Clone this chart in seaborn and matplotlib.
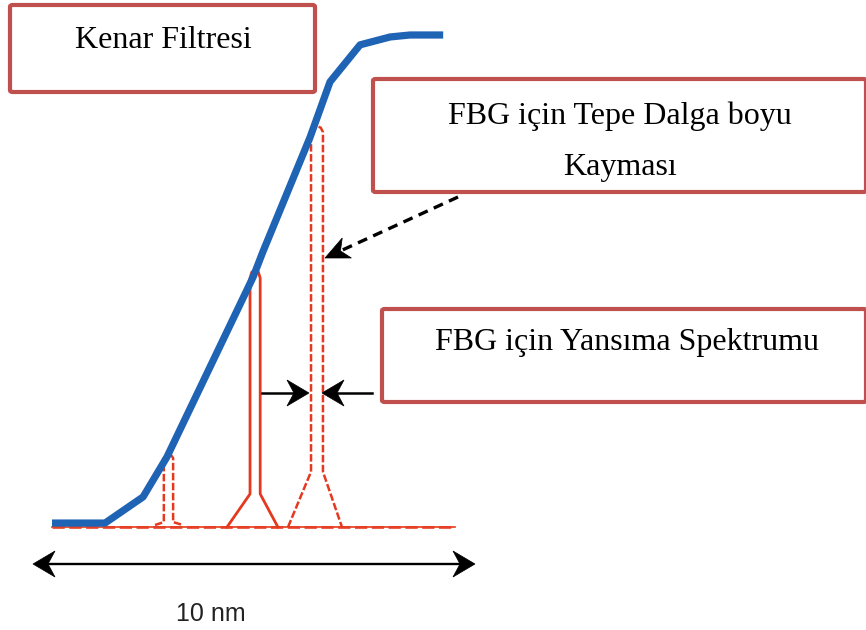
import numpy as np
import pandas as pd
import matplotlib
matplotlib.use("Agg")
import matplotlib.pyplot as plt
import seaborn as sns
from matplotlib.patches import FancyBboxPatch, Polygon
from matplotlib.lines import Line2D

# ---- data (wavelength offset in nm, normalised power) ----
edge_wl = [0.43, 1.63, 2.49, 3.03, 4.98, 5.20, 6.27, 6.72, 7.40, 8.08, 8.53, 9.28]
edge_pw = [0.008, 0.008, 0.061, 0.142, 0.507, 0.558, 0.791, 0.903, 0.978, 0.994, 0.998, 0.998]

peak1_wl = [2.76, 2.96, 2.96, 3.01, 3.07, 3.13, 3.17, 3.17, 3.39]
peak1_pw = [0.004, 0.010, 0.140, 0.145, 0.146, 0.145, 0.140, 0.010, 0.004]

peak2_wl = [4.39, 4.91, 4.91, 4.95, 5.02, 5.10, 5.14, 5.14, 5.54]
peak2_pw = [0.0, 0.067, 0.505, 0.517, 0.521, 0.517, 0.505, 0.067, 0.0]

peak3_wl = [5.77, 6.29, 6.29, 6.35, 6.43, 6.51, 6.56, 6.56, 6.99]
peak3_pw = [0.0, 0.112, 0.801, 0.810, 0.813, 0.810, 0.801, 0.112, 0.0]

base_wl = [0.43, 9.55]
base_pw = [0.0, 0.0]

span_label = "10 nm"
box_labels = ["Kenar Filtresi", "FBG için Tepe Dalga boyu", "Kayması", "FBG için Yansıma Spektrumu"]

# ---- figure ----
W, H = 866, 630
fig = plt.figure(figsize=(W / 100, H / 100), dpi=100)
ax = fig.add_axes([0, 0, 1, 1])
X0, SX, Y0, SY = 33.0, 44.2, 527.0, 493.0
ax.set_xlim((0 - X0) / SX, (W - X0) / SX)
ax.set_ylim((Y0 - H) / SY, Y0 / SY)
ax.axis("off")

red = "#E5391F"
blue = "#1E63B4"

df_base = pd.DataFrame({"wl": base_wl, "pw": base_pw})
sns.lineplot(data=df_base, x="wl", y="pw", ax=ax, color=red, lw=1.2, sort=False, estimator=None)
sns.lineplot(data=df_base, x="wl", y="pw", ax=ax, color=red, lw=2.2, sort=False, estimator=None,
             linestyle=(0, (4, 1.5)), alpha=0.8)

df1 = pd.DataFrame({"wl": peak1_wl, "pw": peak1_pw})
sns.lineplot(data=df1, x="wl", y="pw", ax=ax, color=red, lw=1.8, sort=False, estimator=None,
             linestyle=(0, (3, 1)))
df2 = pd.DataFrame({"wl": peak2_wl, "pw": peak2_pw})
sns.lineplot(data=df2, x="wl", y="pw", ax=ax, color=red, lw=2.0, sort=False, estimator=None)
df3 = pd.DataFrame({"wl": peak3_wl, "pw": peak3_pw})
sns.lineplot(data=df3, x="wl", y="pw", ax=ax, color=red, lw=1.8, sort=False, estimator=None,
             linestyle=(0, (3, 1)))

df_edge = pd.DataFrame({"wl": edge_wl, "pw": edge_pw})
sns.lineplot(data=df_edge, x="wl", y="pw", ax=ax, color=blue, lw=5.2, sort=False, estimator=None,
             solid_capstyle="butt", solid_joinstyle="round")

# ---- annotations in pixel coordinates ----
def P(x, y):
    return (x / W, 1 - y / H)

def box(x0, y0, x1, y1):
    bb = FancyBboxPatch(P(x0, y1), (x1 - x0) / W, (y1 - y0) / H,
                        boxstyle="round,pad=0,rounding_size=0.003",
                        transform=fig.transFigure, facecolor="white",
                        edgecolor="#C0504D", lw=3.0, zorder=5)
    fig.patches.append(bb)

serif = "Liberation Serif"
box(10, 5, 315, 92)
fig.text(*P(163, 40), box_labels[0], ha="center", va="center", family=serif, fontsize=23, zorder=6)
box(373, 79, 866, 192)
fig.text(*P(620, 116), box_labels[1], ha="center", va="center", family=serif, fontsize=23, zorder=6)
fig.text(*P(620, 168), box_labels[2], ha="center", va="center", family=serif, fontsize=23, zorder=6)
box(382, 309, 866, 402)
fig.text(*P(627, 343), box_labels[3], ha="center", va="center", family=serif, fontsize=23, zorder=6)

def head(tip, direction, L, w, notch):
    d = np.asarray(direction, float)
    d = d / np.hypot(*d)
    n = np.array([-d[1], d[0]])
    t = np.asarray(tip, float)
    back = t - d * L
    pts = [t, back + n * w, t - d * (L - notch), back - n * w]
    poly = Polygon([P(*p) for p in pts], closed=True, transform=fig.transFigure,
                   facecolor="black", edgecolor="black", lw=0.5, zorder=8)
    fig.patches.append(poly)
    return t - d * (L - notch)

def seg(p0, p1, lw=1.6, ls="-"):
    a, b = P(*p0), P(*p1)
    fig.lines.append(Line2D([a[0], b[0]], [a[1], b[1]], transform=fig.transFigure,
                            color="black", lw=lw, linestyle=ls, zorder=7))

# bottom double arrow
l_end = head((33, 564), (-1, 0), 22, 13, 7)
r_end = head((475, 564), (1, 0), 22, 13, 7)
seg(l_end, r_end, lw=1.7)
# converging arrows
e1 = head((309, 393), (1, 0), 22, 13, 7)
seg((262, 393), e1, lw=1.8)
e2 = head((322, 393), (-1, 0), 22, 13, 7)
seg((372, 393), e2, lw=1.8)
# dashed pointer arrow
e3 = head((325, 258), (325 - 458, 258 - 197), 24, 11, 7)
seg((458, 197), e3, lw=2.4, ls=(0, (3, 2)))

fig.text(*P(211, 614), span_label, ha="center", va="center", family="Liberation Sans",
         fontsize=18, color="#222222")

fig.savefig("out.png", dpi=100, facecolor="white")
